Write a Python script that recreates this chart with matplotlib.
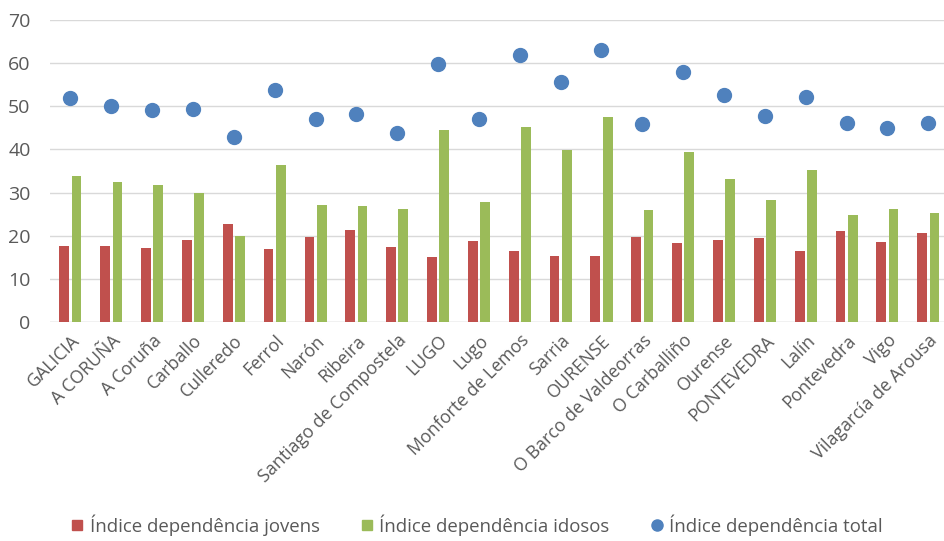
import numpy as np
import matplotlib.pyplot as plt
from matplotlib.lines import Line2D

plt.rcParams['font.family'] = ['Open Sans', 'DejaVu Sans']

municipios = ["GALICIA", "A CORUÑA", "A Coruña", "Carballo", "Culleredo", "Ferrol",
              "Narón", "Ribeira", "Santiago de Compostela", "LUGO", "Lugo",
              "Monforte de Lemos", "Sarria", "OURENSE", "O Barco de Valdeorras",
              "O Carballiño", "Ourense", "PONTEVEDRA", "Lalín", "Pontevedra", "Vigo",
              "Vilagarcía de Arousa"]
jovens = [17.7, 17.7, 17.1, 19.0, 22.6, 16.9, 19.8, 21.2, 17.3, 15.0, 18.7,
          16.5, 15.3, 15.3, 19.7, 18.3, 19.0, 19.4, 16.5, 21.1, 18.6, 20.7]
idosos = [33.9, 32.4, 31.7, 29.9, 19.9, 36.3, 27.1, 26.8, 26.2, 44.6, 27.9,
          45.1, 39.9, 47.5, 25.9, 39.3, 33.2, 28.2, 35.2, 24.7, 26.2, 25.3]
total = [52.0, 50.1, 49.2, 49.3, 42.8, 53.7, 47.1, 48.1, 43.8, 59.8, 47.1,
         61.9, 55.6, 63.1, 46.0, 58.0, 52.5, 47.8, 52.1, 46.2, 45.0, 46.2]

rojo = "#C0504D"
verde = "#9BBB59"
azul = "#4F81BD"
gris = "#595959"

fig = plt.figure(figsize=(9.44, 5.41), dpi=100)
ax = fig.add_axes([0.053, 0.405, 0.952, 0.558])

x = np.arange(len(municipios))
ax.bar(x - 0.15, jovens, width=0.24, color=rojo, zorder=2)
ax.bar(x + 0.15, idosos, width=0.24, color=verde, zorder=2)
ax.scatter(x, total, s=100, color=azul, zorder=3)

ax.set_xlim(-0.5, len(municipios) - 0.5)
ax.set_ylim(0, 70)
ax.set_yticks(range(0, 71, 10))
ax.grid(axis="y", color="#D9D9D9", linewidth=1, zorder=0)
for s in ax.spines.values():
    s.set_visible(False)
ax.axhline(0, color="#D9D9D9", linewidth=1, zorder=1)
ax.tick_params(axis="both", length=0, colors=gris)
ax.tick_params(axis="y", labelsize=14, pad=14)
ax.set_xticks(x)
ax.set_xticklabels(municipios, rotation=45, ha="right", rotation_mode="anchor",
                   fontsize=12.8, color=gris)
ax.tick_params(axis="x", pad=7)

handles = [
    Line2D([], [], marker="s", linestyle="none", color=rojo, markersize=7),
    Line2D([], [], marker="s", linestyle="none", color=verde, markersize=7),
    Line2D([], [], marker="o", linestyle="none", color=azul, markersize=8),
]
etiquetas = ["Índice dependência jovens", "Índice dependência idosos",
             "Índice dependência total"]
fig.legend(handles, etiquetas, loc="center", bbox_to_anchor=(0.505, 0.03), ncol=3,
           frameon=False, fontsize=13.4, handlelength=0.7, handletextpad=0.3,
           columnspacing=2.2, labelcolor=gris)

fig.savefig("out.png", dpi=100)
